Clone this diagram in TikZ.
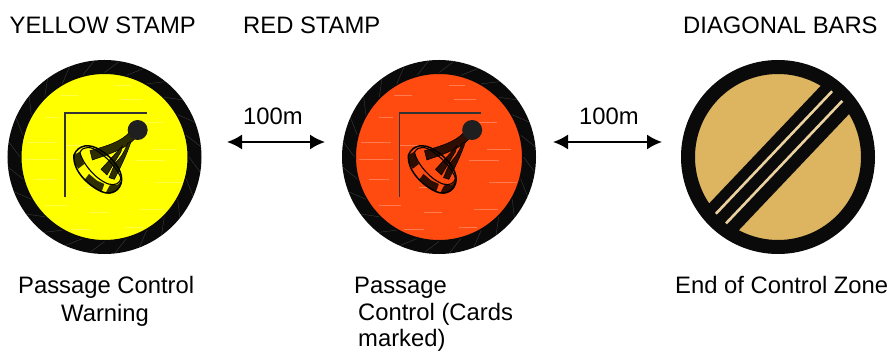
\documentclass[tikz,border=0pt]{standalone}
\usepackage{fontspec}
\setmainfont{Liberation Sans}
\usetikzlibrary{arrows.meta}
\definecolor{ringblack}{HTML}{0A0A0A}
\definecolor{signyellow}{HTML}{FFFF00}
\definecolor{signred}{HTML}{FF4A10}
\definecolor{signtan}{HTML}{DDB45F}
\tikzset{x=1pt,y=-1pt,
 lbl/.style={font=\fontsize{23.8}{26}\selectfont,inner sep=0pt,anchor=base west},
 ring/.style={circle,draw=ringblack,line width=14pt,minimum size=180pt,inner sep=0pt},
 dist/.style={{Latex[length=15pt,width=15pt]}-{Latex[length=15pt,width=15pt]},line width=1.8pt,black},
 streak/.style={white,opacity=.28,line width=.7pt}
}
% buoy sign icon, relative to the centre of a sign; #1 = tone of the dark parts
\newcommand{\buoyicon}[1]{%
 \draw[line width=1.1pt,black!80] (-40,-44) -- (42,-44) (-39.5,-44.5) -- (-39.5,40);
 \begin{scope}[shift={(-39.5,-47)},x=.3333pt,y=-.3333pt]
  % arm and legs
  \fill[#1,draw=black,line width=.5pt] (195,65) .. controls (170,95) and (125,108) .. (75,122) -- (82,150) .. controls (125,135) and (180,118) .. (208,88) -- cycle;
  \fill[#1,draw=black,line width=.5pt] (172,108) -- (108,178) -- (126,195) -- (168,125) -- cycle;
  \fill[#1,draw=black,line width=.5pt] (188,100) .. controls (178,125) and (170,140) .. (150,160) -- (132,203) -- (148,208) .. controls (165,175) and (185,135) .. (198,95) -- cycle;
  % ball
  \fill[black!88] (218,60) circle (30);
  % band patches
  \fill[#1] (27,135) -- (45,125) .. controls (47,140) and (52,150) .. (58,162) -- (40,176) .. controls (30,165) and (25,150) .. (27,135) -- cycle;
  \fill[#1] (72,192) -- (96,212) -- (118,222) -- (110,245) .. controls (95,238) and (75,225) .. (60,208) -- cycle;
  \fill[#1] (134,226) -- (158,224) -- (170,212) .. controls (168,240) and (145,255) .. (122,249) -- cycle;
  % rims
  \draw[black,line width=1.5pt] (27,135) .. controls (40,103) and (75,100) .. (105,120) .. controls (140,140) and (172,180) .. (170,210) .. controls (168,240) and (140,258) .. (110,245) .. controls (75,230) and (22,185) .. (27,135) -- cycle;
  \draw[black,line width=1.1pt] (45,127) .. controls (48,150) and (85,205) .. (130,222) .. controls (150,228) and (165,220) .. (168,205);
  \draw[black,line width=1.1pt] (45,127) .. controls (55,106) and (80,110) .. (100,125) .. controls (130,145) and (160,180) .. (168,205);
 \end{scope}
}
% thin spokes on the black ring and pale streaks in the field
\newcommand{\signtexture}{%
 \foreach \a in {0,15,...,345}{\draw[white,opacity=.2,line width=.4pt] (\a:84.5) -- (\a+9:97);}
 \foreach \xa/\ya/\l in {-45/-62/18,15/-58/22,-60/-40/14,40/-35/18,-78/-15/30,-40/-12/26,48/-8/24,-80/2/34,30/3/30,-70/22/20,50/25/28,-60/48/22,-15/55/18,35/52/24,-35/72/20,10/-72/16,20/70/18,-20/30/16}{\draw[streak] (\xa,\ya) -- ++(\l,0);}
}
\begin{document}
\begin{tikzpicture}
\useasboundingbox (0,0) rectangle (889,352);
% signs
\node[ring,fill=signyellow] (yellow) at (104.5,157) {};
\begin{scope}[shift={(yellow.center)}]\signtexture\buoyicon{black!82!signyellow}\end{scope}
\node[ring,fill=signred] (red) at (439,157) {};
\begin{scope}[shift={(red.center)}]\signtexture\buoyicon{black!82!signred}\end{scope}
\node[ring,fill=signtan] (bars) at (778,157) {};
\begin{scope}
 \clip (bars.center) circle (90);
 \begin{scope}[shift={(bars.center)},rotate=46.5]
  \fill[ringblack] (-100,-18) rectangle (100,22);
  \draw[signtan!60!white,line width=2.6pt] (-84,-6) -- (85,-6);
  \draw[signtan!60!white,line width=2.6pt] (-84,8) -- (85,8);
 \end{scope}
\end{scope}
% headings
\node[lbl] (t1) at (9.5,34) {YELLOW STAMP};
\node[lbl] (t2) at (243,34) {RED STAMP};
\node[lbl] (t3) at (683,34) {DIAGONAL BARS};
% distance arrows
\coordinate (a1) at (227,142); \coordinate (a2) at (325,142);
\coordinate (b1) at (553,142); \coordinate (b2) at (662,142);
\draw[dist] (a1) -- (a2);
\draw[dist] (b1) -- (b2);
\node[lbl] (d1) at (243,125) {100m};
\node[lbl] (d2) at (579,125) {100m};
% captions
\node[lbl] (c1a) at (18,294) {Passage Control};
\node[lbl] (c1b) at (61,322) {Warning};
\node[lbl] (c2a) at (354,294) {Passage};
\node[lbl] (c2b) at (358,321) {Control (Cards};
\node[lbl] (c2c) at (358,346.5) {marked)};
\node[lbl] (c3) at (675,294) {End of Control Zone};
\end{tikzpicture}
\end{document}
